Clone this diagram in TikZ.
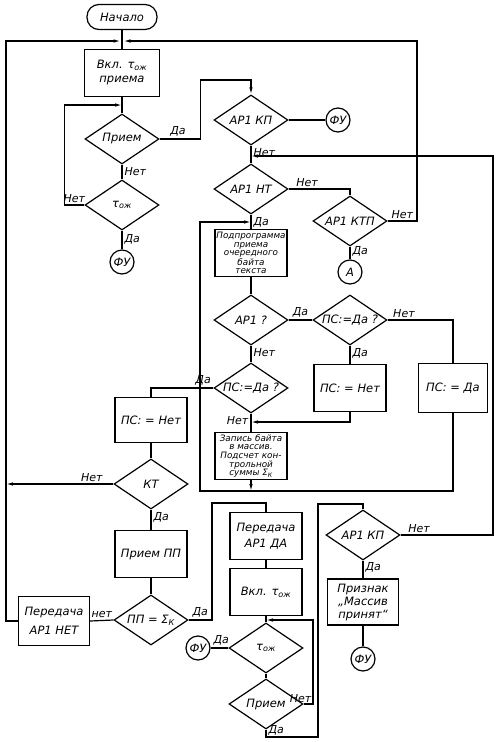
\documentclass[tikz,border=0pt]{standalone}
\usepackage{amsmath}
\usepackage{fontspec}
\setmainfont{DejaVu Sans}
\usetikzlibrary{arrows.meta,shapes.geometric}
\newcommand{\tauOzh}{τ$_{\text{ож}}$}
\newcommand{\SigK}{Σ$_{\text{К}}$}

\begin{document}
\begin{tikzpicture}[x=1pt, y=-1pt,
  every node/.style={font=\fontsize{11.5}{13}\selectfont\itshape},
  line/.style={line width=1.2pt},
  arrow/.style={line width=1.2pt, -{Latex[length=7pt,width=3.5pt]}},
  blk/.style={draw, line width=1.2pt, minimum width=72pt, minimum height=47pt, align=center, inner sep=1pt},
  tinyblk/.style={blk, font=\fontsize{8.8}{8.6}\selectfont\itshape},
  cond/.style={draw, diamond, line width=1.2pt, aspect=1.5, minimum width=74pt, minimum height=50pt, inner sep=0pt},
  term/.style={draw, line width=1.2pt, rounded corners=12pt, minimum width=70pt, minimum height=25pt},
  fu/.style={draw, circle, line width=1.2pt, minimum size=24pt, inner sep=0pt},
  lab/.style={inner sep=2pt, font=\fontsize{11}{12}\selectfont\itshape}
]
\useasboundingbox (0,0) rectangle (500,742);
% start
\node[term] (start) at (122,17) {Начало};
\node[blk, minimum width=75pt] (vkl1) at (122,73) {Вкл. \tauOzh\\[1pt]приема};
\node[cond] (priem1) at (122,139) {Прием};
\node[cond] (tau1) at (122,205) {\tauOzh};
\node[fu] (fu1) at (122,262) {ФУ};
% main column
\node[cond] (kp1) at (251,120) {АР1 КП};
\node[fu] (fu2) at (338,120) {ФУ};
\node[cond] (nt) at (251,189) {АР1 НТ};
\node[cond] (ktp) at (350,221) {АР1 КТП};
\node[fu] (A) at (350,272) {А};
\node[tinyblk] (podpr) at (251,253) {Подпрограмма\\приема\\очередного\\байта\\текста};
\node[cond] (ap1) at (251,320) {АР1 ?};
\node[cond] (psq1) at (350,320) {ПС:=Да ?};
\node[blk] (psno1) at (350,388) {ПС: = Нет};
\node[blk, minimum width=69pt, minimum height=49pt] (psyes) at (453,388) {ПС: = Да};
\node[cond] (psq2) at (251,388) {ПС:=Да ?};
\node[tinyblk] (zap) at (251,456) {Запись байта\\в массив.\\Подсчет кон-\\трольной\\суммы \SigK};
% left column
\node[blk, minimum height=45pt] (psno2) at (151,420) {ПС: = Нет};
\node[cond] (kt) at (151,484) {КТ};
\node[blk] (priempp) at (151,554) {Прием ПП};
\node[cond] (ppsum) at (151,620) {ПП = \SigK};
\node[blk, minimum width=71pt, minimum height=49pt] (perno) at (54,621) {Передача\\[6pt]АР1 НЕТ};
% lower column
\node[blk] (peryes) at (266,536) {Передача\\[3pt]АР1 ДА};
\node[blk] (vkl2) at (266,592) {Вкл. \tauOzh};
\node[cond] (tau2) at (266,648) {\tauOzh};
\node[fu] (fu3) at (198,648) {ФУ};
\node[cond] (priem2) at (266,704) {Прием};
\node[cond] (kp2) at (363,535) {АР1 КП};
\node[blk, minimum width=71pt, minimum height=46pt] (priz) at (363,602) {Признак\\„Массив\\принят“};
\node[fu] (fu4) at (363,659) {ФУ};

% junctions
\coordinate (jTop) at (122,41);
\coordinate (jPriem) at (122,105);
\coordinate (jKP) at (251,156);
\coordinate (jPodpr) at (251,222);
\coordinate (jZap) at (251,422);
\coordinate (jBot) at (251,491);
\coordinate (jLow) at (266,620);
\coordinate (cTL) at (6,41);
\coordinate (cTR) at (417,41);
\coordinate (cKT) at (6,484);
\coordinate (cDa1) at (200,80);
\coordinate (cR) at (493,156);
\coordinate (cBL) at (200,491);
\coordinate (cP) at (212,503);
\coordinate (cLoop) at (313,620);
\coordinate (cDa) at (318,737);
\coordinate (cDb) at (318,504);

\draw[line] (start) -- (vkl1);
\draw[line] (vkl1) -- (priem1);
\draw[line] (priem1.south) -- node[lab, pos=0, below right]{Нет} (tau1.north);
\draw[line] (tau1.south) -- node[lab, pos=0.45, right]{Да} (fu1);
\draw[arrow] (tau1.west) -- node[lab, pos=0.5, above]{Нет} ++(-20,0) |- (jPriem);
\draw[arrow] (priem1.east) -- node[lab, pos=0.45, above]{Да} ++(41,0) |- (cDa1) -| (kp1.north);
\draw[line] (kp1.east) -- (fu2);
\draw[line] (kp1.south) -- node[lab, pos=0, below right]{Нет} (nt.north);
\draw[arrow] (kp2.east) -- node[lab, pos=0.2, above]{Нет} (kp2.east -| cR) -- (cR) -- (jKP);
\draw[line] (nt.east) -- node[lab, pos=0.3, above]{Нет} (nt.east -| ktp.north) -- (ktp.north);
\draw[arrow, shorten >=1.5pt] (ktp.east) -- node[lab, pos=0.5, above]{Нет} (ktp.east -| cTR) -- (cTR) -- (jTop);
\draw[line] (ktp.south) -- node[lab, pos=0.4, right]{Да} (A);
\draw[line] (nt.south) -- node[lab, pos=0, below right]{Да} (podpr.north);
\draw[line] (podpr.south) -- (ap1.north);
\draw[line] (ap1.east) -- node[lab, pos=0.5, above]{Да} (psq1.west);
\draw[line] (psq1.east) -- node[lab, pos=0.25, above]{Нет} (psq1.east -| psyes.north) -- (psyes.north);
\draw[line] (psq1.south) -- node[lab, pos=0, below right]{Да} (psno1.north);
\draw[line] (ap1.south) -- node[lab, pos=0, below right]{Нет} (psq2.north);
\draw[line] (psq2.south) -- node[lab, pos=0, below left]{Нет} (zap.north);
\draw[arrow] (psno1.south) |- (jZap);
\draw[arrow] (zap.south) -- (jBot);
\draw[arrow] (psyes.south) |- (cBL) |- (jPodpr);
\draw[line] (psq2.west) -- node[lab, pos=0, above left]{Да} (psq2.west -| psno2.north) -- (psno2.north);
\draw[line] (psno2.south) -- (kt.north);
\draw[arrow] (kt.west) -- node[lab, pos=0.2, above]{Нет} (cKT);
\draw[line] (kt.south) -- node[lab, pos=0, below right]{Да} (priempp.north);
\draw[line] (priempp.south) -- (ppsum.north);
\draw[line] (ppsum.west) -- node[lab, pos=0.5, above]{нет} (perno.east);
\draw[arrow, shorten >=1.5pt] (perno.west) -| (cTL) -- (jTop);
\draw[line] (ppsum.east) -- node[lab, pos=0.5, above]{Да} (ppsum.east -| cP) -- (cP) -| (peryes.north);
\draw[line] (peryes.south) -- (vkl2.north);
\draw[line] (vkl2.south) -- (tau2.north);
\draw[line] (tau2.west) -- node[lab, pos=0.4, above]{Да} (fu3);
\draw[line] (tau2.south) -- (priem2.north);
\draw[arrow] (priem2.east) -- node[lab, pos=1, above left, inner sep=1pt]{Нет} (priem2.east -| cLoop) -- (cLoop) -- (jLow);
\draw[line] (priem2.south) -- node[lab, pos=0.1, right]{Да} (priem2.south |- cDa) -- (cDa) -- (cDb) -| (kp2.north);
\draw[line] (kp2.south) -- node[lab, pos=0.4, right]{Да} (priz.north);
\draw[line] (priz.south) -- (fu4);
\end{tikzpicture}
\end{document}
